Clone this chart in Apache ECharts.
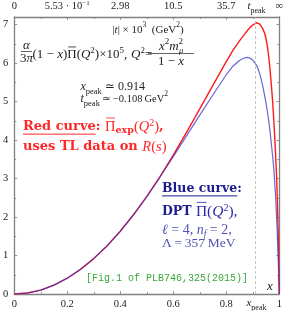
<!DOCTYPE html>
<html><head><meta charset="utf-8">
<script src="https://cdn.jsdelivr.net/npm/echarts@6/dist/echarts.min.js"></script>
<style>html,body{margin:0;padding:0;background:#fff}#c{width:286px;height:311px}</style>
</head><body><div id="c"></div>
<script>
// ---- data ----
const xs   = [0, 0.05, 0.1, 0.15, 0.2, 0.25, 0.3, 0.35, 0.4, 0.45, 0.5, 0.55, 0.6, 0.65, 0.7, 0.75, 0.8, 0.825, 0.85, 0.86, 0.87, 0.875, 0.88, 0.89, 0.9, 0.907, 0.914, 0.92, 0.925, 0.93, 0.935, 0.94, 0.945, 0.95, 0.955, 0.96, 0.965, 0.97, 0.975, 0.98, 0.985, 0.99, 0.993, 0.996, 0.998, 1];
const red  = [0, 0.026, 0.10, 0.23, 0.41, 0.64, 0.92, 1.25, 1.63, 2.06, 2.53, 3.05, 3.61, 4.2, 4.81, 5.43, 6.04, 6.33, 6.58, 6.67, 6.76, 6.8, 6.85, 6.93, 6.99, 7.03, 7.05, 7.04, 7.02, 6.98, 6.93, 6.86, 6.77, 6.64, 6.45, 6.18, 5.85, 5.45, 5.0, 4.45, 3.8, 3.05, 2.4, 1.6, 0.95, 0];
const blue = [0, 0.026, 0.10, 0.23, 0.41, 0.64, 0.92, 1.25, 1.63, 2.06, 2.53, 3.04, 3.57, 4.11, 4.65, 5.18, 5.7, 5.92, 6.07, 6.11, 6.14, 6.15, 6.15, 6.13, 6.08, 6.03, 5.95, 5.85, 5.75, 5.63, 5.49, 5.33, 5.15, 4.96, 4.75, 4.52, 4.24, 3.92, 3.58, 3.2, 2.68, 2.0, 1.5, 0.9, 0.5, 0];
const xPeak = 0.914;
const bottomLabels = ['0', '0.2', '0.4', '0.6', '0.8', '1'];
const topLabels = ['0', '{n|5.53 · 10}{s|−1}', '2.98', '10.5', '35.7', '∞'];
const yLabels = ['0', '1', '2', '3', '4', '5', '6', '7'];

const SERIF = "'Liberation Serif','DejaVu Serif',serif";
const BSERIF = "'DejaVu Serif','Liberation Serif',serif";
const AX = '#808080';
const chart = echarts.init(document.getElementById('c'), null, {renderer: 'canvas'});

const idx = v => Math.round(v / 0.2);
const axisCommon = {
  type: 'value', min: 0, max: 1, interval: 0.2,
  axisLine: {show: true, onZero: false, lineStyle: {color: AX, width: 1.3}},
  axisTick: {show: true, inside: true, length: 3, lineStyle: {color: AX, width: 0.8}},
  minorTick: {show: true, splitNumber: 2, length: 2, lineStyle: {color: AX, width: 0.8}},
  splitLine: {show: false}, minorSplitLine: {show: false}
};
const yCommon = {
  type: 'value', min: 0, max: 7.2, interval: 1,
  axisLine: {show: true, onZero: false, lineStyle: {color: AX, width: 1.3}},
  axisTick: {show: true, inside: true, length: 3, lineStyle: {color: AX, width: 0.8}},
  minorTick: {show: true, splitNumber: 2, length: 2, lineStyle: {color: AX, width: 0.8}},
  splitLine: {show: false}, minorSplitLine: {show: false}
};

chart.setOption({
  animation: false,
  backgroundColor: '#fff',
  grid: {left: 12, right: 4, top: 17, bottom: 17, containLabel: false},
  xAxis: [
    Object.assign({}, axisCommon, {position: 'bottom',
      axisLabel: {margin: 5, fontSize: 10.5, fontFamily: SERIF, color: '#222',
        formatter: v => bottomLabels[idx(v)] || ''}}),
    Object.assign({}, axisCommon, {position: 'top',
      axisLabel: {margin: 5, fontSize: 10.5, fontFamily: SERIF, color: '#222',
        formatter: v => topLabels[idx(v)] || '',
        rich: {n: {fontSize: 10.5, fontFamily: SERIF, color: '#222', verticalAlign: 'bottom', lineHeight: 12},
               s: {fontSize: 7, fontFamily: SERIF, color: '#222', verticalAlign: 'top', lineHeight: 12}}}})
  ],
  yAxis: [
    Object.assign({}, yCommon, {position: 'left',
      axisLabel: {margin: 6, fontSize: 10.5, fontFamily: SERIF, color: '#222',
        formatter: v => Number.isInteger(v) ? (yLabels[v] || '') : ''}}),
    Object.assign({}, yCommon, {position: 'right', axisLabel: {show: false}})
  ],
  series: [
    {type: 'line', name: 'red', data: xs.map((x, i) => [x, red[i]]), showSymbol: false,
     smooth: false, lineStyle: {color: '#ff1a1a', width: 1.4}, z: 2,
     markLine: {silent: true, symbol: ['none', 'none'], label: {show: false},
       lineStyle: {type: [3, 2], color: '#b8b8b8', width: 0.8}, data: [{xAxis: xPeak}]}},
    {type: 'line', name: 'blue', data: xs.map((x, i) => [x, blue[i]]), showSymbol: false,
     smooth: false, lineStyle: {color: '#3434c8', width: 1.2, opacity: 0.75}, z: 3}
  ]
});

// ---------- rich-text helper with measured overbars / underlines ----------
const cv = document.createElement('canvas').getContext('2d');
const fontStr = s => `${s.fontStyle || 'normal'} ${s.fontWeight || 'normal'} ${s.fontSize}px ${s.fontFamily}`;
const meas = (t, s) => { cv.font = fontStr(s); return cv.measureText(t).width; };
function st(c, fs, o) { return Object.assign({fontFamily: SERIF, fontSize: fs, fill: c, fontStyle: 'normal', fontWeight: 'normal', verticalAlign: 'middle', lineHeight: 18}, o || {}); }
function sp(c, fs, o) { return st(c, fs, Object.assign({verticalAlign: 'top'}, o || {})); }
function sb(c, fs, o) { return st(c, fs, Object.assign({verticalAlign: 'bottom'}, o || {})); }
function line(x, y, tokens, styles, align, color) {
  const widths = tokens.map(t => meas(t[1], styles[t[0]]));
  const total = widths.reduce((a, b) => a + b, 0);
  let x0 = align === 'center' ? x - total / 2 : x;
  const els = [], pos = [];
  let cx = x0;
  tokens.forEach((t, i) => {
    pos.push(cx);
    const s = styles[t[0]];
    const f = t[2] || {};
    if (f.bar) els.push({type: 'line', silent: true, shape: {x1: cx + 1, y1: y - s.fontSize * 0.62, x2: cx + widths[i] - 0.5, y2: y - s.fontSize * 0.62}, style: {stroke: s.fill, lineWidth: 0.8}});
    if (f.ul) els.push({type: 'line', silent: true, shape: {x1: cx, y1: y + s.fontSize * 0.55, x2: cx + widths[i], y2: y + s.fontSize * 0.55}, style: {stroke: s.fill, lineWidth: 1}});
    cx += widths[i];
  });
  const text = tokens.map(t => `{${t[0]}|${t[1]}}`).join('');
  els.unshift({type: 'text', silent: true, style: {x: x0, y, text, rich: styles, align: 'left', verticalAlign: 'middle', fontFamily: SERIF, fontSize: 11, fill: color || '#222'}});
  return {els, pos, widths, total};
}

const px = chart.convertToPixel({xAxisIndex: 0}, xPeak);
const K = '#222', RED = '#ff2626', NAVY = '#1c1c8e', NAVY2 = '#2c2ca2', LB = '#5252b6';
const TH = '\u2009';
let G = [];
const add = r => { G = G.concat(r.els); return r; };

const ks = {i: st(K, 11, {fontStyle: 'italic'}), b: sb(K, 8), r: st(K, 11), s: sp(K, 7.5)};
add(line(px, 6, [['i', 't'], ['b', 'peak']], ks, 'center'));
add(line(px, 303, [['i', 'x'], ['b', 'peak']], ks, 'center'));
add(line(148, 30, [['r', '|'], ['i', 't'], ['r', '| × 10'], ['s', '3'], ['r', '  (GeV'], ['s', '2'], ['r', ')']], ks, 'center'));

// formula
const fs = {i: st(K, 13, {fontStyle: 'italic'}), r: st(K, 13), s: sp(K, 9)};
add(line(26.5, 45.5, [['i', 'α']], fs, 'center'));
G.push({type: 'line', silent: true, shape: {x1: 21, y1: 51.5, x2: 32, y2: 51.5}, style: {stroke: K, lineWidth: 0.7}});
add(line(26.5, 59, [['r', '3'], ['i', 'π']], fs, 'center'));
add(line(32.5, 55, [['r', '(1 − '], ['i', 'x'], ['r', ')'], ['r', 'Π', {bar: true}], ['r', '('], ['i', 'Q'], ['s', '2'], ['r', ')×10'], ['s', '5'], ['r', ',']], fs, 'left'));
add(line(131, 55, [['i', 'Q'], ['s', '2'], ['r', '=']], fs, 'left'));
const num = add(line(171, 46.5, [['i', 'x'], ['s', '2'], ['i', 'm'], ['s', '2']], fs, 'center'));
G.push({type: 'text', silent: true, style: {x: num.pos[3] + 0.5, y: 51, text: 'μ', fontFamily: SERIF, fontStyle: 'italic', fontSize: 8.5, fill: K, align: 'left', verticalAlign: 'middle'}});
G.push({type: 'line', silent: true, shape: {x1: 148, y1: 53.5, x2: 194, y2: 53.5}, style: {stroke: K, lineWidth: 0.7}});
add(line(171, 61.5, [['r', '1 − '], ['i', 'x']], fs, 'center'));

// peaks
const ps = {i: st(K, 12, {fontStyle: 'italic'}), b: sb(K, 8.5), r: st(K, 12), s: sp(K, 8)};
const ps2 = {i: st(K, 12, {fontStyle: 'italic'}), b: sb(K, 8.5), r: st(K, 10.5), s: sp(K, 7.5)};
add(line(80.5, 87, [['i', 'x'], ['b', 'peak'], ['r', ' ≃ 0.914']], ps, 'left'));
add(line(80.5, 99, [['i', 't'], ['b', 'peak'], ['r', TH + '≃' + TH + '−0.108' + TH + 'GeV'], ['s', '2']], ps2, 'left'));

// red block
const rs = {b: st(RED, 13, {fontFamily: BSERIF, fontWeight: 'bold'}), r: st(RED, 14.5), i: st(RED, 14.5, {fontStyle: 'italic'}),
            bs: sb(RED, 9.5, {fontFamily: BSERIF, fontWeight: 'bold'}), s: sp(RED, 10)};
add(line(23, 127, [['b', 'Red curve', {ul: true}], ['b', ': '], ['r', 'Π', {bar: true}], ['bs', 'exp'], ['r', '('], ['i', 'Q'], ['s', '2'], ['r', ')'], ['b', ',']], rs, 'left'));
add(line(23, 147, [['b', 'uses TL data on '], ['i', 'R'], ['r', '('], ['i', 's'], ['r', ')']], rs, 'left'));

// blue block
const bs = {b: st(NAVY, 12.5, {fontFamily: BSERIF, fontWeight: 'bold'}), r: st(NAVY2, 15.5), i: st(NAVY2, 15.5, {fontStyle: 'italic'}), s: sp(NAVY2, 10),
            lr: st(LB, 14), li: st(LB, 14, {fontStyle: 'italic'}), lb: sb(LB, 9.5, {fontStyle: 'italic'}), lr2: st(LB, 13.5)};
add(line(162, 189, [['b', 'Blue curve', {ul: true}], ['b', ':']], bs, 'left'));
add(line(162, 212, [['b', 'DPT '], ['r', 'Π', {bar: true}], ['r', '('], ['i', 'Q'], ['s', '2'], ['r', '),']], bs, 'left'));
add(line(162, 230, [['li', 'ℓ'], ['lr', ' = 4, '], ['li', 'n'], ['lb', 'f'], ['lr', ' = 2,']], bs, 'left'));
add(line(162, 243.5, [['lr2', 'Λ' + TH + '=' + TH + '357' + TH + 'MeV']], bs, 'left'));

// green reference + x label
G.push({type: 'text', silent: true, style: {x: 86, y: 278.5, text: '[Fig.1 of PLB746,325(2015)]', fontFamily: "'Liberation Mono','DejaVu Sans Mono',monospace", fontSize: 10, fill: '#38a838', align: 'left', verticalAlign: 'middle'}});
add(line(270, 287, [['i', 'x']], {i: st(K, 13, {fontStyle: 'italic'})}, 'center'));

chart.setOption({graphic: G});
</script>
</body></html>
